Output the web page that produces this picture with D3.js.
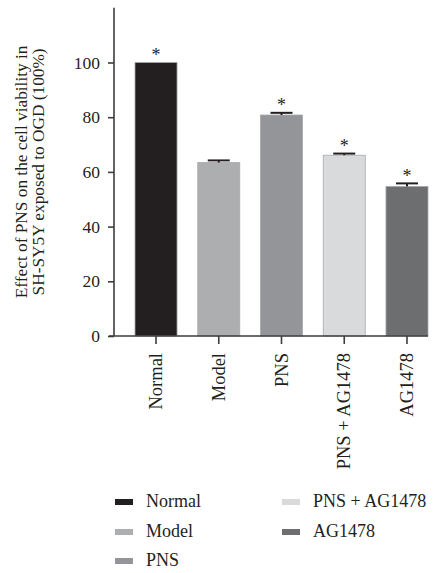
<!DOCTYPE html>
<html>
<head>
<meta charset="utf-8">
<script src="https://cdn.jsdelivr.net/npm/d3@7"></script>
<style>
  html, body { margin: 0; padding: 0; background: #fff; }
  svg { display: block; }
  text { font-family: "Liberation Serif", "Times New Roman", serif; fill: #231f20; }
</style>
</head>
<body>
<svg id="chart" width="441" height="573"></svg>
<script>
// Cell viability groups
const categories = ["Normal", "Model", "PNS", "PNS + AG1478", "AG1478"];
const values = [100, 63.4, 80.8, 66.1, 54.7];
const errors = [0, 0.8, 0.8, 0.6, 1.1];
const significant = [true, false, true, true, true];
const colors = ["#231f20", "#adaeb0", "#939598", "#d9dadb", "#6d6e70"];
const yTicks = [0, 20, 40, 60, 80, 100];
const yLabelLines = ["Effect of PNS on the cell viability in", "SH-SY5Y exposed to OGD (100%)"];

const svg = d3.select("#chart");
const axisColor = "#3d3d3d";

const x = d3.scaleBand().domain(categories).range([135, 428]).paddingInner(0.33).paddingOuter(0);
const y = d3.scaleLinear().domain([0, 120]).range([336, 7.8]);

// Bars
svg.append("g").selectAll("rect")
  .data(categories)
  .join("rect")
  .attr("x", d => x(d))
  .attr("y", (d, i) => y(values[i]))
  .attr("width", x.bandwidth())
  .attr("height", (d, i) => y(0) - y(values[i]))
  .attr("fill", (d, i) => colors[i])
  .attr("stroke", "#a7a9ac")
  .attr("stroke-width", 0.8);

// Upper error bars
const eb = svg.append("g").attr("stroke", "#231f20").attr("stroke-width", 2);
categories.forEach((c, i) => {
  if (!errors[i]) return;
  const cx = x(c) + x.bandwidth() / 2;
  const top = y(values[i] + errors[i]);
  eb.append("line").attr("x1", cx).attr("x2", cx).attr("y1", y(values[i])).attr("y2", top);
  eb.append("line").attr("x1", cx - 11).attr("x2", cx + 11).attr("y1", top).attr("y2", top);
});

// Significance marks
svg.append("g").selectAll("text")
  .data(categories.filter((c, i) => significant[i]))
  .join("text")
  .attr("x", d => x(d) + x.bandwidth() / 2)
  .attr("y", d => { const i = categories.indexOf(d); return y(values[i] + errors[i]) - 1.5; })
  .attr("text-anchor", "middle")
  .attr("font-size", 18)
  .attr("fill", "#3d3d3d")
  .text("*");

// Y axis
const yAxis = svg.append("g").attr("transform", "translate(114,0)")
  .call(d3.axisLeft(y).tickValues(yTicks).tickSize(6).tickPadding(8).tickFormat(d3.format("d")));
yAxis.select(".domain").attr("d", `M0,${y(120)}V${y(0)}`).attr("stroke", axisColor).attr("stroke-width", 1.6);
yAxis.selectAll(".tick line").attr("stroke", axisColor).attr("stroke-width", 1.6);
yAxis.selectAll(".tick text").attr("font-size", 17.5).attr("fill", "#231f20");

// X axis
const xAxis = svg.append("g").attr("transform", `translate(0,${y(0)})`)
  .call(d3.axisBottom(x).tickSize(8).tickFormat(""));
xAxis.select(".domain").attr("d", "M109,0H428").attr("stroke", axisColor).attr("stroke-width", 1.6);
xAxis.selectAll(".tick line").attr("stroke", axisColor).attr("stroke-width", 1.6);

// Rotated category labels
svg.append("g").selectAll("text")
  .data(categories)
  .join("text")
  .attr("transform", d => `translate(${x(d) + x.bandwidth() / 2 + 6},353) rotate(-90)`)
  .attr("text-anchor", "end")
  .attr("font-size", 18.5)
  .text(d => d);

// Y axis title
const yMid = (y(0) + y(120)) / 2;
svg.append("g").selectAll("text")
  .data(yLabelLines)
  .join("text")
  .attr("transform", (d, i) => `translate(${27 + i * 17},${yMid}) rotate(-90)`)
  .attr("text-anchor", "middle")
  .attr("font-size", 17.3)
  .text(d => d);

// Legend
const legendPos = [[115, 507], [115, 537], [115, 566], [282, 507], [282, 537]];
const lg = svg.append("g").selectAll("g")
  .data(categories)
  .join("g")
  .attr("transform", (d, i) => `translate(${legendPos[i][0]},${legendPos[i][1]})`);
lg.append("rect").attr("x", 0).attr("y", -8).attr("width", 18).attr("height", 6)
  .attr("fill", (d, i) => colors[i]);
lg.append("text").attr("x", 31).attr("y", 0).attr("font-size", 18).text(d => d);
</script>
</body>
</html>
